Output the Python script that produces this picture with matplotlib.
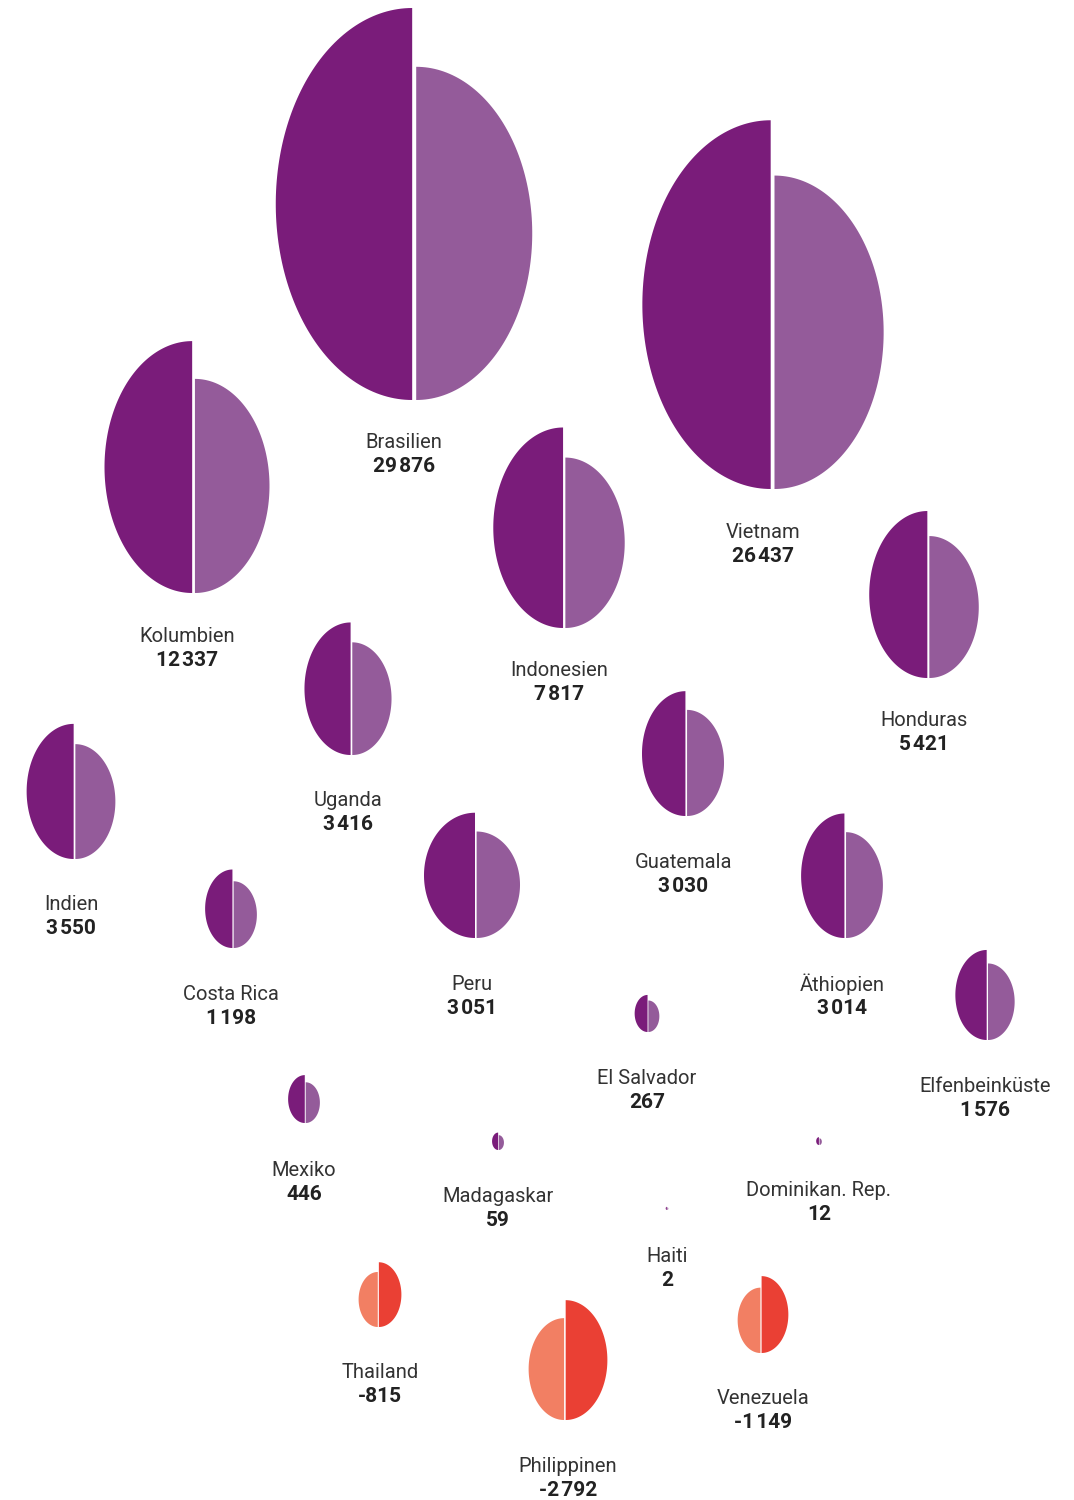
import numpy as np
import matplotlib
matplotlib.use("Agg")
import matplotlib.pyplot as plt

# data: country and value (thousand tonnes)
countries = ["Brasilien", "Vietnam", "Kolumbien", "Indonesien", "Honduras",
             "Uganda", "Indien", "Guatemala", "Peru", "Äthiopien",
             "Costa Rica", "Elfenbeinküste", "El Salvador", "Mexiko",
             "Madagaskar", "Dominikan. Rep.", "Haiti", "Thailand",
             "Philippinen", "Venezuela"]
values = [29876, 26437, 12337, 7817, 5421,
          3416, 3550, 3030, 3051, 3014,
          1198, 1576, 267, 446,
          59, 12, 2, -815,
          -2792, -1149]

# layout (pixel positions of bean centre x, bean bottom y and label y)
pos_x = [404, 763, 187, 559, 924,
         348, 71, 683, 472, 842,
         231, 985, 647, 304,
         498, 819, 667, 380,
         568, 763]
pos_y = [400, 489, 593, 628, 678,
         755, 859, 816, 938, 938,
         948, 1040, 1032, 1123,
         1150, 1145, 1210, 1327,
         1420, 1353]
label_y = [441, 530, 634, 669, 719,
           799, 903, 860, 983, 982,
           993, 1085, 1077, 1168,
           1195, 1189, 1254, 1371,
           1464, 1397]
# Peru is drawn a bit wider in the original
stretch = [1.0] * len(countries)
stretch[countries.index("Peru")] = 1.17

DARK = "#7a1c7a"
LIGHT = "#945b9a"
RED = "#ea4034"
SALMON = "#f27f63"

K = 392 / np.sqrt(29876)  # pixel height per sqrt(value)


def half(ax, x0, bottom, hw, h, side, color):
    # half ellipse; side=-1 -> bulges left from x0, side=1 -> bulges right
    t = np.linspace(-np.pi / 2, np.pi / 2, 120)
    cy = bottom - h / 2
    xs = np.concatenate([[x0], x0 + side * hw * np.cos(t), [x0]])
    ys = np.concatenate([[cy + h / 2], cy + (h / 2) * np.sin(t), [cy - h / 2]])
    ax.fill(xs, ys, color=color, lw=0)


def fmt(v):
    s = f"{abs(v):,}".replace(",", "\u200a")
    return ("-" if v < 0 else "") + s


fig = plt.figure(figsize=(10.74, 15), dpi=100)
ax = fig.add_axes([0, 0, 1, 1])
ax.set_xlim(0, 1074)
ax.set_ylim(1500, 0)
ax.axis("off")

for name, v, cx, by, ly, st in zip(countries, values, pos_x, pos_y, label_y, stretch):
    H = K * np.sqrt(abs(v))
    big = 0.348 * H * st
    small = 0.296 * H * st
    gap = 0.5 + 0.009 * H
    left = cx - (big + small + gap) / 2
    if v >= 0:
        s = left + big
        half(ax, s, by, big, H, -1, DARK)
        half(ax, s + gap, by, small, 0.85 * H, 1, LIGHT)
    else:
        s = left + small
        half(ax, s, by, small, 0.85 * H, -1, SALMON)
        half(ax, s + gap, by, big, H, 1, RED)
    ax.text(cx, ly + 2, name, ha="center", va="center", fontsize=14.5,
            family="Roboto", color="#333333")
    ax.text(cx, ly + 26, fmt(v), ha="center", va="center", fontsize=15,
            family="Roboto", weight="bold", color="#222222")

fig.savefig("out.png", dpi=100)
